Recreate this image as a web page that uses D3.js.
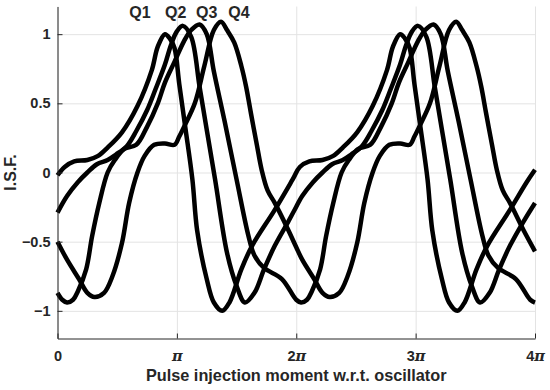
<!DOCTYPE html>
<html lang="en">
<head>
<meta charset="UTF-8">
<title>I.S.F.</title>
<script src="https://d3js.org/d3.v7.min.js"></script>
<style>
  body { margin: 0; background: #fff; }
  text { font-family: "Liberation Sans", Arial, sans-serif; font-weight: bold; fill: #262626; }
</style>
</head>
<body>
<script>
// x values are in units of pi, y is the I.S.F. value
const q1 = [[0,-0.02],[0.06,0.04],[0.14,0.08],[0.25,0.09],[0.34,0.12],[0.42,0.18],[0.54,0.29],[0.67,0.48],[0.79,0.74],[0.84,0.91],[0.9,1.0],[0.94,0.97],[0.98,0.9],[1.02,0.64],[1.07,0.33],[1.13,-0.05],[1.17,-0.42],[1.25,-0.77],[1.31,-0.94],[1.38,-1.0],[1.44,-0.94],[1.54,-0.7],[1.63,-0.53],[1.82,-0.27],[1.97,-0.05],
  [2.03,0.04],[2.11,0.08],[2.22,0.09],[2.31,0.12],[2.39,0.18],[2.51,0.29],[2.64,0.48],[2.76,0.74],[2.81,0.91],[2.87,1.0],[2.91,0.97],[2.95,0.9],[2.99,0.64],[3.04,0.33],[3.10,-0.05],[3.14,-0.42],[3.22,-0.77],[3.28,-0.94],[3.35,-1.0],[3.41,-0.94],[3.51,-0.7],[3.6,-0.53],[3.79,-0.27],[3.93,-0.07],[4.0,0.02]];
const q2 = [[0,-0.29],[0.08,-0.17],[0.17,-0.07],[0.25,0.0],[0.33,0.06],[0.42,0.09],[0.49,0.13],[0.58,0.19],[0.66,0.3],[0.75,0.45],[0.82,0.6],[0.9,0.78],[0.95,0.92],[1.0,1.02],[1.05,1.06],[1.12,0.98],[1.19,0.62],[1.25,0.31],[1.32,-0.05],[1.42,-0.58],[1.5,-0.82],[1.57,-0.94],[1.65,-0.87],[1.73,-0.7],[1.82,-0.53],[1.93,-0.36],[1.98,-0.28],
  [2.05,-0.17],[2.14,-0.07],[2.22,0.0],[2.30,0.06],[2.39,0.09],[2.46,0.13],[2.55,0.19],[2.63,0.3],[2.72,0.45],[2.79,0.6],[2.87,0.78],[2.92,0.92],[2.97,1.02],[3.02,1.06],[3.09,0.98],[3.16,0.62],[3.22,0.31],[3.29,-0.05],[3.39,-0.58],[3.47,-0.82],[3.54,-0.94],[3.62,-0.87],[3.70,-0.7],[3.79,-0.53],[3.90,-0.36],[4.0,-0.22]];
const q3 = [[0,-0.87],[0.04,-0.92],[0.08,-0.94],[0.13,-0.92],[0.17,-0.86],[0.24,-0.7],[0.29,-0.46],[0.35,-0.22],[0.42,0.0],[0.48,0.09],[0.56,0.17],[0.66,0.2],[0.75,0.33],[0.84,0.5],[0.9,0.65],[0.98,0.8],[1.06,0.95],[1.12,1.03],[1.19,1.07],[1.25,1.0],[1.31,0.73],[1.4,0.37],[1.5,-0.05],[1.6,-0.46],[1.65,-0.6],[1.73,-0.69],[1.88,-0.77],[2.0,-0.92],
  [2.04,-0.94],[2.09,-0.92],[2.13,-0.86],[2.2,-0.7],[2.25,-0.46],[2.31,-0.22],[2.38,0.0],[2.44,0.09],[2.52,0.17],[2.62,0.2],[2.71,0.33],[2.8,0.5],[2.86,0.65],[2.94,0.8],[3.02,0.95],[3.08,1.03],[3.15,1.07],[3.21,1.0],[3.27,0.73],[3.36,0.37],[3.46,-0.05],[3.56,-0.46],[3.61,-0.6],[3.69,-0.69],[3.84,-0.77],[3.96,-0.92],[4.0,-0.94]];
const q4 = [[0,-0.5],[0.08,-0.63],[0.18,-0.77],[0.25,-0.87],[0.31,-0.9],[0.39,-0.87],[0.46,-0.75],[0.54,-0.51],[0.6,-0.22],[0.67,0.0],[0.73,0.12],[0.81,0.2],[0.9,0.21],[0.98,0.2],[1.02,0.26],[1.06,0.33],[1.15,0.5],[1.23,0.77],[1.31,1.03],[1.37,1.09],[1.42,1.03],[1.48,0.94],[1.54,0.77],[1.58,0.62],[1.62,0.43],[1.67,0.2],[1.71,0.02],[1.76,-0.13],[1.82,-0.22],[1.93,-0.41],
  [2.0,-0.54],[2.05,-0.63],[2.15,-0.77],[2.22,-0.87],[2.28,-0.9],[2.36,-0.87],[2.43,-0.75],[2.51,-0.51],[2.57,-0.22],[2.64,0.0],[2.7,0.12],[2.78,0.2],[2.87,0.21],[2.95,0.2],[2.99,0.26],[3.03,0.33],[3.12,0.5],[3.2,0.77],[3.28,1.03],[3.34,1.09],[3.39,1.03],[3.45,0.94],[3.51,0.77],[3.55,0.62],[3.59,0.43],[3.64,0.2],[3.68,0.02],[3.73,-0.13],[3.79,-0.22],[3.9,-0.41],[4.0,-0.57]];

const seriesNames = ["Q1", "Q2", "Q3", "Q4"];
const labelX = [0.69, 0.99, 1.25, 1.52];   // label anchors, units of pi
const labelY = 1.12;

const xTicks = [0, 1, 2, 3, 4];
const xTickNames = ["0", "π", "2π", "3π", "4π"];
const yTicks = [-1, -0.5, 0, 0.5, 1];

const width = 550, height = 390;
const m = { left: 57.5, right: 15, top: 6.5, bottom: 51.5 };
const W = width - m.left - m.right;
const H = height - m.top - m.bottom;

const svg = d3.select("body").append("svg")
    .attr("width", width)
    .attr("height", height);

const x = d3.scaleLinear().domain([0, 4]).range([0, W]);
const y = d3.scaleLinear().domain([-1.2, 1.2]).range([H, 0]);

const g = svg.append("g").attr("transform", `translate(${m.left},${m.top})`);

// grid
g.append("g")
    .attr("transform", `translate(0,${H})`)
    .call(d3.axisBottom(x).tickValues(xTicks).tickSize(-H).tickFormat(""))
    .call(s => s.select(".domain").remove())
    .selectAll("line").attr("stroke", "#e3e3e3");
g.append("g")
    .call(d3.axisLeft(y).tickValues(yTicks).tickSize(-W).tickFormat(""))
    .call(s => s.select(".domain").remove())
    .selectAll("line").attr("stroke", "#e3e3e3");

// curves
const line = d3.line()
    .x(d => x(d[0]))
    .y(d => y(d[1]))
    .curve(d3.curveCatmullRom.alpha(0.5));

g.append("g")
    .selectAll("path")
    .data([q1, q2, q3, q4])
    .enter().append("path")
    .attr("d", line)
    .attr("fill", "none")
    .attr("stroke", "#000")
    .attr("stroke-width", 4.5)
    .attr("stroke-linejoin", "round");

// axes
const xAxis = g.append("g")
    .attr("transform", `translate(0,${H})`)
    .call(d3.axisBottom(x).tickValues(xTicks).tickSizeInner(-5).tickSizeOuter(0).tickPadding(12)
        .tickFormat((d, i) => xTickNames[i]));
const yAxis = g.append("g")
    .call(d3.axisLeft(y).tickValues(yTicks).tickSizeInner(-5).tickSizeOuter(0).tickPadding(7)
        .tickFormat(d3.format("")));

[xAxis, yAxis].forEach(a => {
    a.select(".domain").attr("stroke", "#262626");
    a.selectAll(".tick line").attr("stroke", "#262626");
    a.selectAll("text").attr("font-size", 14.5).attr("fill", "#262626")
        .attr("font-family", "'Liberation Sans', Arial, sans-serif").attr("font-weight", "bold");
});

// italic pi in x tick labels
xAxis.selectAll(".tick text").each(function(d, i) {
    const t = d3.select(this);
    const s = xTickNames[i];
    if (s.indexOf("π") < 0) return;
    t.text(null);
    const k = s.replace("π", "");
    if (k) t.append("tspan").text(k);
    t.append("tspan").attr("font-style", "italic").attr("font-family", "'DejaVu Serif', serif").text("π");
});

// series labels
g.append("g")
    .selectAll("text")
    .data(seriesNames)
    .enter().append("text")
    .attr("x", (d, i) => x(labelX[i]))
    .attr("y", y(labelY))
    .attr("text-anchor", "middle")
    .attr("font-size", 16)
    .attr("fill", "#000")
    .text(d => d);

// axis titles
svg.append("text")
    .attr("x", m.left + W / 2)
    .attr("y", 381)
    .attr("text-anchor", "middle")
    .attr("font-size", 16.3)
    .text("Pulse injection moment w.r.t. oscillator");

svg.append("text")
    .attr("transform", `translate(16,${m.top + H / 2}) rotate(-90)`)
    .attr("text-anchor", "middle")
    .attr("font-size", 16)
    .text("I.S.F.");
</script>
</body>
</html>
